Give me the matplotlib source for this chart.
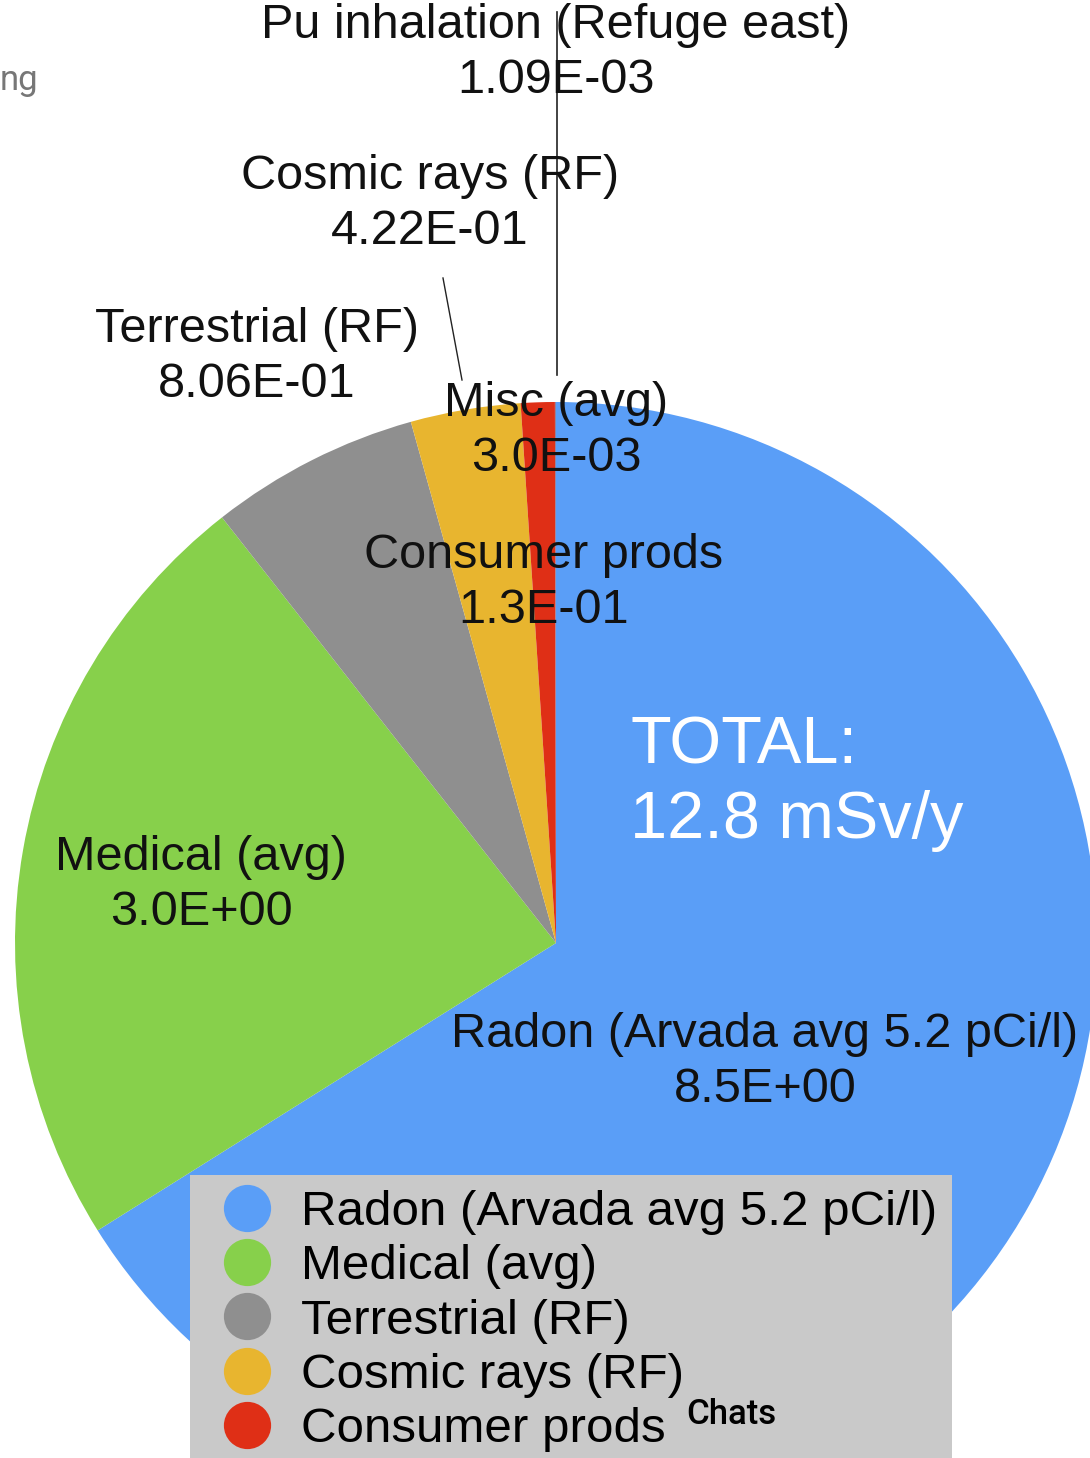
import matplotlib.pyplot as plt
from matplotlib.lines import Line2D

# dose sources (mSv/y)
sources = ['Radon (Arvada avg 5.2 pCi/l)', 'Medical (avg)', 'Terrestrial (RF)',
           'Cosmic rays (RF)', 'Consumer prods', 'Misc (avg)',
           'Pu inhalation (Refuge east)']
doses = [8.5, 3.0, 0.806, 0.422, 0.13, 0.003, 0.00109]
dose_labels = ['8.5E+00', '3.0E+00', '8.06E-01', '4.22E-01', '1.3E-01', '3.0E-03', '1.09E-03']
colors = ['#5A9EF7', '#87D04B', '#8F8F8F', '#E8B52F', '#DF2F16', '#9B59B6', '#2E7D32']
total_text = 'TOTAL:\n12.8 mSv/y'
n_legend = 5  # only these rows are visible in the crop

W, H = 1090, 1458
plt.rcParams['font.family'] = ['Liberation Sans', 'DejaVu Sans']

fig = plt.figure(figsize=(W / 100, H / 100), dpi=100)
ax = fig.add_axes([0, 0, 1, 1])

ax.pie(doses, colors=colors, startangle=90, counterclock=False,
       center=(556, H - 943), radius=541, wedgeprops=dict(linewidth=0))

# label positions (pixel coords, from top)
label_pos = [(765, 1062), (201, 885), (257, 357), (430, 204),
             (544, 583), (556, 431), (556, 53)]
for name, val, (x, y) in zip(sources, dose_labels, label_pos):
    ax.text(x, H - y, f'{name}\n{val}', ha='center', va='center',
            fontsize=35, linespacing=1.27, color='#111111')

ax.text(630, H - 784, total_text, ha='left', va='center', fontsize=48,
        linespacing=1.27, color='white')

# leader lines
ax.plot([557, 557], [H - 12, H - 375], color='#222222', lw=1.2)
ax.plot([443, 462], [H - 278, H - 380], color='#222222', lw=1.0)

handles = [Line2D([], [], marker='o', linestyle='none', markersize=34,
                  markerfacecolor=c, markeredgewidth=0) for c in colors[:n_legend]]
leg = ax.legend(handles, sources[:n_legend], loc='upper left',
                bbox_to_anchor=(190 / W, 1 - 1175 / H), fontsize=35.5,
                frameon=True, fancybox=False, framealpha=1,
                facecolor='#C9C9C9', edgecolor='none',
                labelspacing=0.19, handlelength=1.7, handletextpad=0.25,
                borderpad=0.3, borderaxespad=0)
leg._legend_box.align = 'left'

# screenshot leftovers
ax.text(0, H - 80, 'ng', ha='left', va='center', fontsize=25, color='#777777',
        family='Roboto')
ax.text(686, H - 1414, 'Chats', ha='left', va='center', fontsize=25,
        color='black', family='Roboto', fontweight='medium', zorder=10)

ax.set_xlim(0, W)
ax.set_ylim(0, H)
ax.axis('off')

plt.savefig('out.png', dpi=100)
